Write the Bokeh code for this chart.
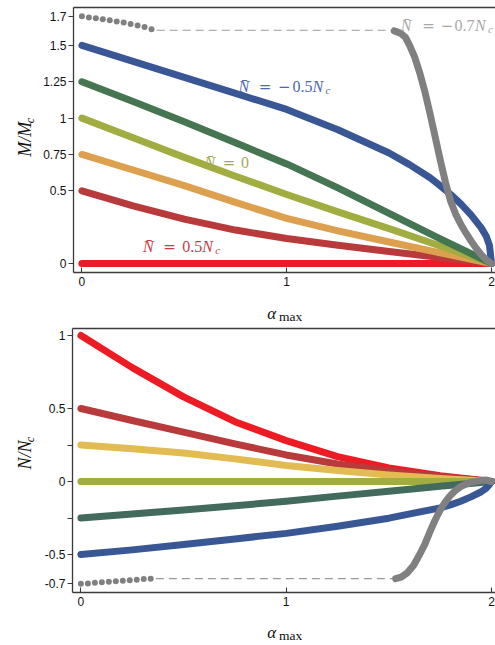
import numpy as np
from bokeh.plotting import figure
from bokeh.models import Range1d, FixedTicker, LinearAxis, Label
from bokeh.layouts import column, row
from bokeh.embed import file_html
from bokeh.resources import INLINE

# ---------------- data ----------------
alpha_std = [0, 0.25, 0.5, 0.75, 1.0, 1.25, 1.5, 1.75, 2.0]

# top panel: M/Mc
M_n100 = [0, 0, 0, 0, 0, 0, 0, 0, 0]
M_n050 = [0.5, 0.397, 0.305, 0.23, 0.172, 0.125, 0.083, 0.041, 0.0]
M_n025 = [0.75, 0.643, 0.535, 0.42, 0.31, 0.225, 0.148, 0.073, 0.0]
M_n000 = [1.0, 0.865, 0.73, 0.60, 0.475, 0.355, 0.24, 0.12, 0.0]
M_m025 = [1.25, 1.115, 0.975, 0.83, 0.685, 0.52, 0.345, 0.17, 0.0]
alpha_blue_M = [0, 0.25, 0.5, 0.75, 1.0, 1.25, 1.5, 1.6, 1.7, 1.75, 1.8, 1.85,
                1.9, 1.95, 1.975, 1.99, 2.0]
M_m050 = [1.5, 1.39, 1.28, 1.17, 1.06, 0.92, 0.76, 0.68, 0.59, 0.535, 0.475,
          0.41, 0.335, 0.245, 0.185, 0.125, 0.0]
alpha_dots = [0, 0.034, 0.068, 0.102, 0.136, 0.170, 0.204, 0.238, 0.272, 0.306, 0.340]
M_m070_dots = [1.70, 1.693, 1.687, 1.680, 1.673, 1.665, 1.657, 1.648, 1.638, 1.627, 1.612]
alpha_gap_M = [0.365, 1.525]
M_m070_gap = [1.605, 1.605]
alpha_gray_M = [1.525, 1.555, 1.58, 1.60, 1.625, 1.65, 1.675, 1.70, 1.725, 1.75,
                1.775, 1.80, 1.825, 1.85, 1.875, 1.90, 1.925, 1.95, 1.975, 2.0]
M_m070 = [1.60, 1.585, 1.555, 1.50, 1.42, 1.31, 1.18, 1.03, 0.87, 0.71,
          0.56, 0.43, 0.34, 0.27, 0.21, 0.155, 0.105, 0.06, 0.025, 0.0]

# bottom panel: N/Nc
N_n100 = [1.0, 0.78, 0.58, 0.41, 0.28, 0.17, 0.093, 0.04, 0.0]
N_n050 = [0.5, 0.418, 0.338, 0.258, 0.182, 0.12, 0.072, 0.034, 0.0]
N_n025 = [0.25, 0.225, 0.195, 0.155, 0.11, 0.075, 0.045, 0.02, 0.0]
N_n000 = [0, 0, 0, 0, 0, 0, 0, 0, 0]
N_m025 = [-0.25, -0.222, -0.195, -0.166, -0.135, -0.10, -0.066, -0.033, 0.0]
alpha_blue_N = [0, 0.25, 0.5, 0.75, 1.0, 1.25, 1.5, 1.75, 1.8, 1.85, 1.9, 1.95,
                1.975, 1.99, 2.0]
N_m050 = [-0.5, -0.468, -0.432, -0.393, -0.355, -0.306, -0.251, -0.18, -0.16,
          -0.135, -0.105, -0.07, -0.045, -0.02, 0.0]
N_m070_dots = [-0.700, -0.698, -0.694, -0.690, -0.687, -0.683, -0.680, -0.676,
               -0.672, -0.668, -0.665]
alpha_gap_N = [0.365, 1.533]
N_m070_gap = [-0.665, -0.665]
alpha_gray_N = [1.533, 1.56, 1.59, 1.62, 1.65, 1.675, 1.70, 1.725, 1.75, 1.775,
                1.80, 1.825, 1.85, 1.875, 1.90, 1.95, 1.975, 2.0]
N_m070 = [-0.665, -0.655, -0.625, -0.575, -0.50, -0.43, -0.345, -0.265, -0.195,
          -0.14, -0.095, -0.06, -0.035, -0.018, -0.005, 0.008, 0.01, 0.0]

x_ticks = [0, 1, 2]
top_ticks = [0, 0.5, 0.75, 1, 1.25, 1.5, 1.7]
top_tick_labels = ["0", "0.5", "0.75", "1", "1.25", "1.5", "1.7"]
bot_ticks = [-0.7, -0.5, -0.25, 0, 0.25, 0.5, 1]
bot_tick_labels = ["-0.7", "-0.5", "", "0", "", "0.5", "1"]

# ---------------- styling ----------------
C_RED = "#ED1C24"
C_DRED = "#B93A3B"
C_ORANGE_T = "#DDA04F"
C_ORANGE_B = "#E2BC52"
C_OLIVE = "#A1AD40"
C_GREEN_T = "#467552"
C_GREEN_B = "#436B5D"
C_BLUE = "#3A5795"
C_GRAY = "#808080"
AX = "#3a3a3a"
LW = 7
IT, NO = "italic", "normal"
SERIF, SYM = "Liberation Serif", "DejaVu Serif"

X0, X1 = -0.041, 2.0195
FL, FW = 72, 423          # page x of the frame's left edge, frame width


def tx(px):
    return X0 + (px - FL) * (X1 - X0) / FW


def make_fig(height, y0, y1, top_border, bot_border, ticks, labels):
    p = figure(width=455, height=height, x_range=Range1d(X0, X1),
               y_range=Range1d(y0, y1), output_backend="svg",
               toolbar_location=None, min_border_left=FL - 40, min_border_right=0,
               min_border_top=top_border, min_border_bottom=bot_border)
    p.outline_line_color = None
    p.xgrid.visible = False
    p.ygrid.visible = False
    p.xaxis.ticker = FixedTicker(ticks=x_ticks)
    p.yaxis.ticker = FixedTicker(ticks=ticks)
    p.yaxis.major_label_overrides = {t: l for t, l in zip(ticks, labels)}
    for ax in (p.xaxis[0], p.yaxis[0]):
        ax.axis_line_color = AX
        ax.axis_line_width = 1.3
        ax.major_tick_line_color = AX
        ax.major_tick_line_width = 1.1
        ax.minor_tick_line_color = None
        ax.major_label_text_font = "Liberation Sans"
        ax.major_label_text_font_size = "12px"
        ax.major_label_text_color = "#111111"
    p.xaxis.major_tick_in = 5
    p.xaxis.major_tick_out = 0
    p.xaxis.major_label_standoff = 4
    p.yaxis.major_tick_in = 0
    p.yaxis.major_tick_out = 5
    p.yaxis.major_label_standoff = 2
    top = LinearAxis(ticker=FixedTicker(ticks=[]), major_tick_in=0, major_tick_out=0,
                     minor_tick_in=0, minor_tick_out=0, major_label_standoff=0,
                     major_label_text_font_size="0px", axis_line_color=AX,
                     axis_line_width=1.3)
    p.add_layout(top, "above")
    return p


def text_fig(w, h):
    # a bare figure whose data units are pixels, origin at its bottom-left
    f = figure(width=w, height=h, x_range=Range1d(0, w), y_range=Range1d(0, h),
               x_axis_type=None, y_axis_type=None, output_backend="svg",
               toolbar_location=None, min_border=0)
    f.outline_line_color = None
    f.grid.visible = False
    return f


def add_math(p, fx, fy, pieces, color, angle=0.0, baseline="alphabetic"):
    for piece in pieces:
        text, px, py, style, size = piece[:5]
        font = piece[5] if len(piece) > 5 else SERIF
        p.add_layout(Label(x=fx(px), y=fy(py), text=text,
                           text_font=font, text_font_style=style,
                           text_font_size=size, text_color=color,
                           text_baseline=baseline, text_align="left",
                           angle=angle))


kw = dict(line_width=LW, line_cap="round", line_join="round")

# ---------------- top panel (page y 0..291) ----------------
TY0, TY1 = -0.062, 1.761


def ty_top(py):
    return TY1 - (py - 7) * (TY1 - TY0) / 265


p1 = make_fig(291, TY0, TY1, 7, 19, top_ticks, top_tick_labels)
p1.line(alpha_std, M_n100, line_color=C_RED, **kw)
p1.line(alpha_std, M_n050, line_color=C_DRED, **kw)
p1.line(alpha_std, M_n025, line_color=C_ORANGE_T, **kw)
p1.line(alpha_std, M_n000, line_color=C_OLIVE, **kw)
p1.line(alpha_std, M_m025, line_color=C_GREEN_T, **kw)
p1.line(alpha_blue_M, M_m050, line_color=C_BLUE, **kw)
p1.line(alpha_gap_M, M_m070_gap, line_color="#9a9a9a", line_width=1.1, line_dash="8 5")
p1.scatter(alpha_dots, M_m070_dots, size=6, fill_color=C_GRAY, line_color=None)
p1.line(alpha_gray_M, M_m070, line_color=C_GRAY, **kw)

add_math(p1, tx, ty_top, [("N\u0304", 237.3, 86, IT, "16px"),
                          ("=", 257.7, 86, NO, "15px", SYM),
                          ("\u2212", 277, 86, NO, "15px", SYM),
                          ("0.5", 291.5, 86, NO, "16px"),
                          ("N", 311.5, 86, IT, "16px"), ("c", 324.5, 89, IT, "11px")],
         "#4B68B3")
add_math(p1, tx, ty_top, [("N\u0304", 203.3, 162, IT, "16px"),
                          ("=", 221.7, 162, NO, "15px", SYM),
                          ("0", 240, 162, NO, "16px")], "#A5A856")
add_math(p1, tx, ty_top, [("N\u0304", 141.7, 246.3, IT, "16px"),
                          ("=", 162, 246.3, NO, "15px", SYM),
                          ("0.5", 181, 246.3, NO, "16px"), ("N", 201, 246.3, IT, "16px"),
                          ("c", 214, 249.3, IT, "11px")], "#CC3A45")
add_math(p1, tx, ty_top, [("N\u0304", 400, 25.3, IT, "16px"),
                          ("=", 421.5, 25.3, NO, "15px", SYM),
                          ("\u2212", 440, 25.3, NO, "15px", SYM),
                          ("0.7", 454, 25.3, NO, "16px"),
                          ("N", 474.5, 25.3, IT, "16px"), ("c", 487.5, 28.3, IT, "11px")],
         "#A8A8A8")

# y label strip (page x 0..40, y 0..291)
yl1 = text_fig(40, 291)
add_math(yl1, lambda v: v, lambda v: 291 - v,
         [("M/M", 24, 164, IT, "18px"), ("c", 29, 127, IT, "12px")],
         "#111111", angle=np.pi / 2, baseline="middle")

# strip between the panels (page y 291..326) holding the top x label
xl1 = text_fig(495, 35)
add_math(xl1, lambda v: v, lambda v: 326 - v,
         [("\u03b1", 266.7, 312.5, IT, "17px"), ("max", 278.5, 316, NO, "13.5px")],
         "#111111", baseline="middle")

# ---------------- bottom panel (page y 326..616) ----------------
BY0, BY1 = -0.760, 1.048


def ty_bot(py):
    return BY1 - (py - 328) * (BY1 - BY0) / 264


p2 = make_fig(290, BY0, BY1, 2, 24, bot_ticks, bot_tick_labels)
p2.line(alpha_std, N_n100, line_color=C_RED, **kw)
p2.line(alpha_std, N_n050, line_color=C_DRED, **kw)
p2.line(alpha_std, N_n025, line_color=C_ORANGE_B, **kw)
p2.line(alpha_std, N_n000, line_color=C_OLIVE, **kw)
p2.line(alpha_std, N_m025, line_color=C_GREEN_B, **kw)
p2.line(alpha_blue_N, N_m050, line_color=C_BLUE, **kw)
p2.line(alpha_gap_N, N_m070_gap, line_color="#9a9a9a", line_width=1.1, line_dash="8 5")
p2.scatter(alpha_dots, N_m070_dots, size=6, fill_color=C_GRAY, line_color=None)
p2.line(alpha_gray_N, N_m070, line_color=C_GRAY, **kw)

yl2 = text_fig(40, 290)
add_math(yl2, lambda v: v, lambda v: 616 - v,
         [("N/N", 24, 481, IT, "18px"), ("c", 29, 451, IT, "12px")],
         "#111111", angle=np.pi / 2, baseline="middle")

xl2 = text_fig(495, 29)
add_math(xl2, lambda v: v, lambda v: 645 - v,
         [("\u03b1", 266.7, 631.5, IT, "17px"), ("max", 278.5, 635, NO, "13.5px")],
         "#111111", baseline="middle")

layout = column(row(yl1, p1, spacing=0), xl1, row(yl2, p2, spacing=0), xl2, spacing=0)
open("out.html", "w").write(file_html(layout, INLINE))
